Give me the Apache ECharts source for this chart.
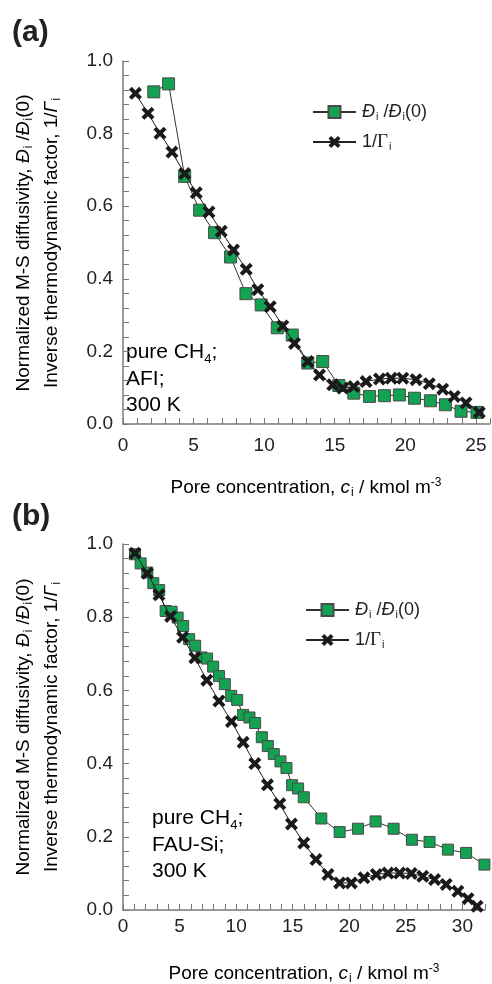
<!DOCTYPE html>
<html>
<head>
<meta charset="utf-8">
<script src="https://cdn.jsdelivr.net/npm/echarts@6/dist/echarts.min.js"></script>
<style>
  html, body { margin: 0; padding: 0; background: #fff; }
  #chart { width: 492px; height: 984px; }
</style>
</head>
<body>
<div id="chart"></div>
<script>
// panel (a): AFI, 300 K
var afiDiffX = [2.18, 3.23, 4.37, 5.43, 6.49, 7.62, 8.71, 9.79, 10.93, 11.99, 13.09, 14.15, 15.29, 16.35, 17.46, 18.52, 19.58, 20.65, 21.78, 22.84, 23.95, 25.08];
var afiDiffY = [0.915, 0.937, 0.682, 0.589, 0.527, 0.46, 0.359, 0.328, 0.265, 0.245, 0.168, 0.172, 0.106, 0.085, 0.076, 0.078, 0.08, 0.071, 0.064, 0.053, 0.035, 0.032];
var afiGamX = [0.88, 1.77, 2.62, 3.47, 4.37, 5.19, 6.09, 6.96, 7.83, 8.73, 9.55, 10.43, 11.32, 12.15, 13.09, 13.92, 14.86, 15.57, 16.35, 17.22, 18.17, 19.0, 19.82, 20.76, 21.7, 22.65, 23.47, 24.3, 25.24];
var afiGamY = [0.911, 0.856, 0.801, 0.749, 0.69, 0.637, 0.584, 0.531, 0.479, 0.426, 0.37, 0.323, 0.27, 0.222, 0.172, 0.135, 0.108, 0.099, 0.103, 0.117, 0.124, 0.126, 0.126, 0.122, 0.111, 0.096, 0.076, 0.058, 0.032];

// panel (b): FAU-Si, 300 K
var fauDiffX = [1.06, 1.56, 2.15, 2.68, 3.2, 3.77, 4.3, 4.83, 5.32, 5.85, 6.38, 6.94, 7.43, 7.97, 8.49, 9.0, 9.56, 10.09, 10.62, 11.18, 11.68, 12.27, 12.8, 13.33, 13.92, 14.45, 14.95, 15.48, 15.98, 17.53, 19.15, 20.77, 22.33, 23.92, 25.54, 27.1, 28.72, 30.33, 31.95];
var fauDiffY = [0.972, 0.947, 0.922, 0.893, 0.874, 0.817, 0.815, 0.799, 0.776, 0.74, 0.722, 0.69, 0.687, 0.665, 0.639, 0.617, 0.585, 0.574, 0.533, 0.526, 0.511, 0.472, 0.448, 0.426, 0.406, 0.388, 0.341, 0.332, 0.308, 0.25, 0.213, 0.222, 0.242, 0.222, 0.192, 0.186, 0.165, 0.156, 0.124];
var fauGamX = [1.06, 2.15, 3.18, 4.21, 5.27, 6.35, 7.41, 8.48, 9.59, 10.62, 11.65, 12.77, 13.86, 14.89, 15.98, 17.06, 18.12, 19.15, 20.18, 21.3, 22.39, 23.42, 24.45, 25.48, 26.5, 27.54, 28.57, 29.6, 30.5, 31.3];
var fauGamY = [0.975, 0.92, 0.861, 0.802, 0.745, 0.689, 0.628, 0.571, 0.515, 0.458, 0.4, 0.342, 0.29, 0.235, 0.183, 0.138, 0.097, 0.074, 0.074, 0.088, 0.097, 0.101, 0.101, 0.1, 0.092, 0.083, 0.07, 0.051, 0.031, 0.01];

var xMaxA = 26, xMaxB = 32;

function pairs(xs, ys) {
  var out = [];
  for (var i = 0; i < xs.length; i++) out.push([xs[i], ys[i]]);
  return out;
}

var FONT = 'Liberation Sans';
var GREEN = '#13a152';
// bold "x" marker
var CROSS = 'path://M0,2.2 L2.2,0 L5,2.8 L7.8,0 L10,2.2 L7.2,5 L10,7.8 L7.8,10 L5,7.2 L2.2,10 L0,7.8 L2.8,5 Z';

var rich = {
  n: { fontFamily: FONT, fontSize: 19, color: '#222' },
  it: { fontFamily: FONT, fontSize: 19, fontStyle: 'italic', color: '#222' },
  sub: { fontFamily: FONT, fontSize: 12, color: '#222', verticalAlign: 'bottom', padding: [10, 0, 0, 1] },
  sup: { fontFamily: FONT, fontSize: 12, color: '#222', verticalAlign: 'top', padding: [0, 0, 10, 0] },
  ln: { fontFamily: FONT, fontSize: 18, color: '#222' },
  lit: { fontFamily: FONT, fontSize: 18, fontStyle: 'italic', color: '#222' },
  lg: { fontFamily: 'Liberation Serif', fontSize: 19, color: '#222' },
  lsub: { fontFamily: FONT, fontSize: 11, color: '#222', verticalAlign: 'bottom', padding: [10, 0, 0, 1] },
  big: { fontFamily: FONT, fontSize: 21, color: '#222' },
  bsub: { fontFamily: FONT, fontSize: 13, color: '#222', verticalAlign: 'bottom', padding: [10, 0, 0, 0] }
};

function xAxisFor(grid, max, labelMargin) {
  return {
    type: 'value', gridIndex: grid, min: 0, max: max, interval: 5,
    axisLine: { lineStyle: { color: '#7a7a7a', width: 1.5 } },
    axisTick: { inside: true, length: 6, lineStyle: { color: '#7a7a7a' } },
    minorTick: { show: true, splitNumber: 5, length: 6, lineStyle: { color: '#7a7a7a' } },
    splitLine: { show: false },
    axisLabel: { fontFamily: FONT, fontSize: 19, color: '#222', margin: labelMargin, showMaxLabel: false }
  };
}

function yAxisFor(grid) {
  return {
    type: 'value', gridIndex: grid, min: 0, max: 1, interval: 0.2,
    axisLine: { show: true, lineStyle: { color: '#7a7a7a', width: 1.5 } },
    axisTick: { show: true, inside: true, length: 6, lineStyle: { color: '#7a7a7a' } },
    minorTick: { show: true, splitNumber: 5, length: 6, lineStyle: { color: '#7a7a7a' } },
    splitLine: { show: false },
    axisLabel: {
      fontFamily: FONT, fontSize: 19, color: '#222', margin: 10,
      formatter: function (v) { return v.toFixed(1); }
    }
  };
}

function diffSeries(idx, data, size) {
  return {
    name: 'diff', type: 'line', xAxisIndex: idx, yAxisIndex: idx, data: data,
    symbol: 'rect', symbolSize: size,
    lineStyle: { color: '#333', width: 1 },
    itemStyle: { color: GREEN, borderColor: '#4a4a4a', borderWidth: 1 },
    z: 2
  };
}

function gamSeries(idx, data) {
  return {
    name: 'gam', type: 'line', xAxisIndex: idx, yAxisIndex: idx, data: data,
    symbol: CROSS, symbolSize: 13,
    lineStyle: { color: '#222', width: 1 },
    itemStyle: { color: '#1a1a1a' },
    z: 3
  };
}

function legendFor(left, top) {
  return {
    orient: 'vertical', left: left, top: top,
    itemWidth: 43, itemHeight: 15, itemGap: 10,
    selectedMode: false,
    data: ['diff', 'gam'],
    textStyle: { fontFamily: FONT, fontSize: 18, color: '#222', padding: [0, 0, 0, 1], rich: rich },
    formatter: function (name) {
      if (name === 'diff') return '{lit|Đ}{lsub|i}{ln| /}{lit|Đ}{lsub|i}{ln|(0)}';
      return '{ln|1/}{lg|Γ}{lsub|i}';
    }
  };
}

function yTitle(cy) {
  return [
    {
      type: 'text', x: 24, y: cy, rotation: Math.PI / 2,
      style: {
        text: '{n|Normalized M-S diffusivity, }{it|Đ}{sub|i}{n| /}{it|Đ}{sub|i}{n|(0)}',
        rich: rich, align: 'center', verticalAlign: 'middle'
      }
    },
    {
      type: 'text', x: 52, y: cy, rotation: Math.PI / 2,
      style: {
        text: '{n|Inverse thermodynamic factor, 1/}{it|Γ}{sub|i}',
        rich: rich, align: 'center', verticalAlign: 'middle'
      }
    }
  ];
}

function xTitle(cx, cy) {
  return {
    type: 'text', x: cx, y: cy,
    style: {
      text: '{n|Pore concentration, }{it|c}{sub|i}{n| / kmol m}{sup|-3}',
      rich: rich, align: 'center', verticalAlign: 'middle'
    }
  };
}

function note(x, y, lines) {
  return {
    type: 'text', x: x, y: y,
    style: {
      text: '{big|pure CH}{bsub|4}{big|;}\n{big|' + lines[0] + '}\n{big|' + lines[1] + '}',
      rich: rich, lineHeight: 26.5, align: 'left', verticalAlign: 'top'
    }
  };
}

var chart = echarts.init(document.getElementById('chart'));

var option = {
  backgroundColor: '#fff',
  animation: false,
  grid: [
    { left: 123, top: 61, width: 367, height: 363 },
    { left: 123, top: 544, width: 362, height: 366 }
  ],
  xAxis: [xAxisFor(0, xMaxA, 12), xAxisFor(1, xMaxB, 7)],
  yAxis: [yAxisFor(0), yAxisFor(1)],
  legend: [legendFor(307, 98), legendFor(300, 596)],
  series: [
    diffSeries(0, pairs(afiDiffX, afiDiffY), 12),
    gamSeries(0, pairs(afiGamX, afiGamY)),
    diffSeries(1, pairs(fauDiffX, fauDiffY), 11),
    gamSeries(1, pairs(fauGamX, fauGamY))
  ],
  graphic: [
    { type: 'text', x: 12, y: 18, style: { text: '(a)', fontFamily: FONT, fontSize: 30, fontWeight: 'bold', fill: '#222' } },
    { type: 'text', x: 12, y: 502, style: { text: '(b)', fontFamily: FONT, fontSize: 30, fontWeight: 'bold', fill: '#222' } },
    xTitle(306, 488),
    xTitle(304, 974),
    note(126, 339, ['AFI;', '300 K']),
    note(152, 805, ['FAU-Si;', '300 K'])
  ].concat(yTitle(243)).concat(yTitle(727))
};

chart.setOption(option);
</script>
</body>
</html>
